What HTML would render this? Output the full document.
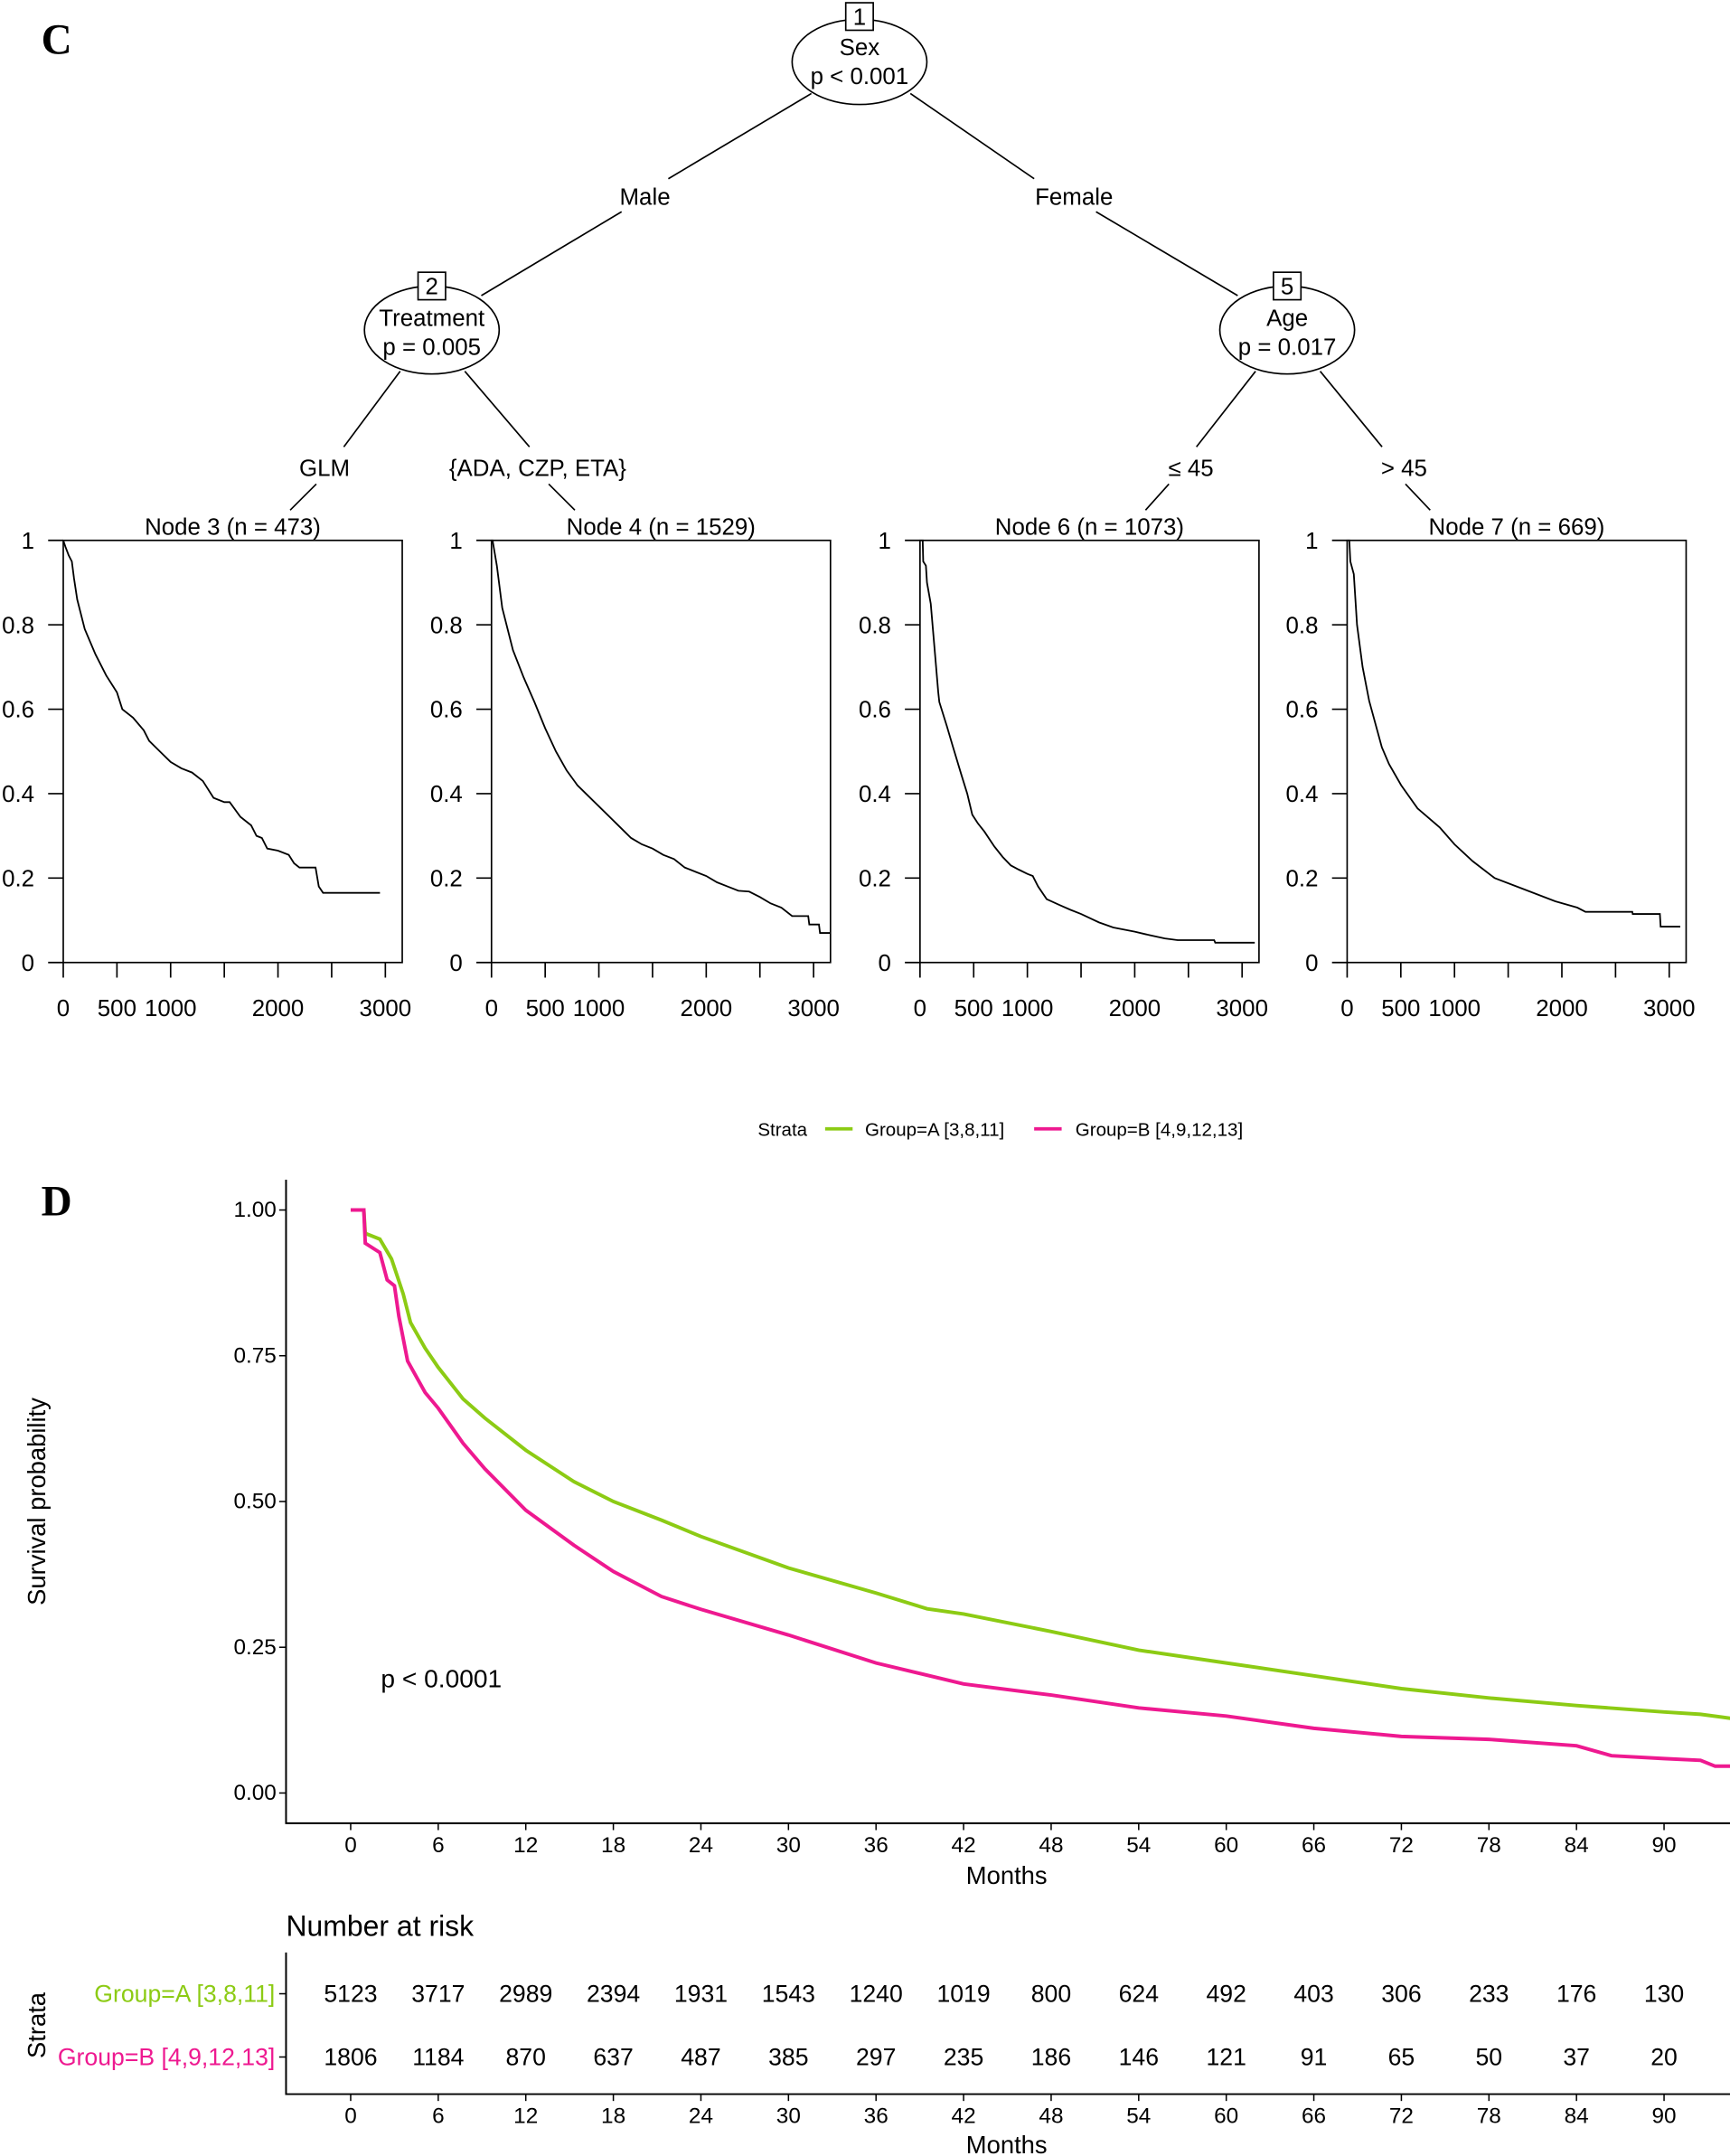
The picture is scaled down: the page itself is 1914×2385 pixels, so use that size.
<!DOCTYPE html>
<html><head><meta charset="utf-8"><style>
html,body{margin:0;padding:0;background:#fff;}
svg{display:block;}
text{font-family:"Liberation Sans",sans-serif;fill:#000;}
</style></head><body>
<svg id="fig" width="1914" height="2385" viewBox="0 0 1258 1568" preserveAspectRatio="none" xmlns="http://www.w3.org/2000/svg">
<text x="30" y="39" style="font-family:'Liberation Serif',serif;font-weight:bold;font-size:31px">C</text>
<text x="30" y="884" style="font-family:'Liberation Serif',serif;font-weight:bold;font-size:31px">D</text>
<g id="tree" stroke="#000" stroke-width="1.1" fill="none">
<line x1="590" y1="68" x2="486" y2="130"/><line x1="452" y1="154" x2="350" y2="215"/>
<line x1="662" y1="68" x2="752" y2="130"/><line x1="797" y1="154" x2="900" y2="215"/>
<line x1="291" y1="270" x2="250" y2="325"/><line x1="230" y1="352" x2="211" y2="371"/>
<line x1="338" y1="270" x2="385" y2="325"/><line x1="399" y1="352" x2="418" y2="371"/>
<line x1="913" y1="270" x2="870" y2="325"/><line x1="850" y1="352" x2="833" y2="371"/>
<line x1="960" y1="270" x2="1005" y2="325"/><line x1="1022" y1="352" x2="1040" y2="371"/>
<ellipse cx="625" cy="45" rx="49" ry="31" fill="#fff"/>
<ellipse cx="314" cy="240" rx="49" ry="32" fill="#fff"/>
<ellipse cx="936" cy="240" rx="49" ry="32" fill="#fff"/>
<rect x="615" y="2" width="20" height="20" fill="#fff"/>
<rect x="304" y="198" width="20" height="20" fill="#fff"/>
<rect x="926" y="198" width="20" height="20" fill="#fff"/>
</g>
<g font-size="17" text-anchor="middle">
<text x="625" y="18">1</text>
<text x="625" y="40">Sex</text>
<text x="625" y="61">p &lt; 0.001</text>
<text x="314" y="214">2</text>
<text x="314" y="237">Treatment</text>
<text x="314" y="258">p = 0.005</text>
<text x="936" y="214">5</text>
<text x="936" y="237">Age</text>
<text x="936" y="258">p = 0.017</text>
<text x="469" y="149">Male</text>
<text x="781" y="149">Female</text>
<text x="236" y="346">GLM</text>
<text x="391" y="346">{ADA, CZP, ETA}</text>
<text x="866" y="346">≤ 45</text>
<text x="1021" y="346">&gt; 45</text>
</g>
<g id="panels"></g>
<g id="d"></g>
</svg>
<script>
// Panel C data (time in days, survival)
const nodeTitles = ["Node 3 (n = 473)","Node 4 (n = 1529)","Node 6 (n = 1073)","Node 7 (n = 669)"];
const n3T = [0,20,50,80,100,130,200,300,400,500,550,650,750,800,900,1000,1100,1200,1300,1400,1500,1550,1650,1750,1800,1850,1900,2000,2100,2150,2200,2350,2380,2420,2950];
const n3S = [1,.985,.965,.95,.91,.86,.79,.73,.68,.64,.60,.58,.55,.525,.50,.475,.46,.45,.43,.39,.38,.38,.345,.325,.30,.295,.27,.265,.255,.235,.225,.225,.18,.165,.165];
const n4T = [0,10,30,50,100,200,300,400,500,600,700,800,900,1000,1100,1200,1300,1400,1500,1600,1700,1800,1900,2000,2100,2200,2300,2400,2500,2600,2700,2800,2950,2960,3050,3060,3155];
const n4S = [1,1,.97,.94,.84,.74,.675,.617,.555,.50,.455,.42,.395,.37,.345,.32,.295,.28,.27,.255,.245,.225,.215,.205,.19,.18,.17,.168,.155,.14,.13,.11,.11,.09,.09,.07,.07];
const n6T = [0,25,30,55,65,100,140,170,180,250,308,385,440,487,538,600,692,770,846,920,1000,1050,1100,1180,1310,1400,1500,1667,1800,2000,2100,2280,2400,2740,2750,3118];
const n6S = [1,1,.95,.94,.90,.85,.73,.64,.617,.56,.51,.445,.40,.35,.33,.31,.275,.25,.23,.22,.21,.205,.18,.15,.135,.125,.115,.095,.083,.073,.067,.057,.053,.053,.047,.047];
const n7T = [0,20,30,62,92,144,205,323,390,503,656,862,1000,1169,1374,1631,1938,2144,2220,2656,2660,2913,2920,3103];
const n7S = [1,1,.95,.92,.80,.70,.62,.51,.47,.42,.365,.32,.28,.24,.20,.175,.145,.13,.12,.12,.115,.115,.085,.085];
const cYTicks = [0,0.2,0.4,0.6,0.8,1];
const cYLabels = ["0","0.2","0.4","0.6","0.8","1"];
const cXTicks = [0,500,1000,1500,2000,2500,3000];
const cXLabels = ["0","500","1000","","2000","","3000"];

// Panel D data (months)
const monthTicks = [0,6,12,18,24,30,36,42,48,54,60,66,72,78,84,90];
const survTicks = [0,0.25,0.5,0.75,1];
const survLabels = ["0.00","0.25","0.50","0.75","1.00"];
const aT = [0,0.9,1,2,2.8,3.6,4.1,5.1,6,7.7,9.2,12,15.3,18,21.3,24,30,36,39.5,42,48,54,60,66,72,78,84,90,92.5,94.6];
const aS = [1,1,.96,.95,.916,.856,.807,.763,.73,.676,.643,.588,.534,.50,.468,.44,.386,.343,.316,.307,.277,.245,.223,.201,.179,.163,.15,.139,.135,.128];
const bT = [0,0.9,1,2,2.5,3,3.3,3.9,5.1,6,7.7,9.2,12,15.3,18,21.3,24,30,36,42,48,54,60,66,72,78,84,86.4,90,92.5,93.5,94.6];
const bS = [1,1,.943,.927,.88,.87,.818,.741,.687,.66,.60,.556,.485,.425,.38,.337,.315,.271,.223,.187,.168,.146,.132,.111,.097,.092,.081,.064,.059,.056,.046,.046];
const riskA = [5123,3717,2989,2394,1931,1543,1240,1019,800,624,492,403,306,233,176,130];
const riskB = [1806,1184,870,637,487,385,297,235,186,146,121,91,65,50,37,20];

const NS="http://www.w3.org/2000/svg";
function mk(tag, attrs, parent, txt){const e=document.createElementNS(NS,tag);for(const k in attrs)e.setAttribute(k,attrs[k]);if(txt!==undefined)e.textContent=txt;parent.appendChild(e);return e;}

const panels=document.getElementById('panels');
const lefts=[46,357.4,669,979.6];
const curves=[[n3T,n3S],[n4T,n4S],[n6T,n6S],[n7T,n7S]];
const PW=246.5, PT=393, PB=700;
for(let p=0;p<4;p++){
  const L=lefts[p];
  const xs=t=>L+t*0.07807, ys=s=>PB-s*(PB-PT);
  const g=mk('g',{},panels);
  
  
  const title=mk('text',{x:L+PW/2,y:389,'font-size':17,'text-anchor':'middle'},g,nodeTitles[p]);
  
  
  const box=mk('rect',{x:L,y:PT,width:PW,height:PB-PT,fill:'none',stroke:'#000','stroke-width':1.1},g);
  
  
  cYTicks.forEach((v,i)=>{
    mk('line',{x1:L-11,x2:L,y1:ys(v),y2:ys(v),stroke:'#000','stroke-width':1.1},g);
    const t=mk('text',{x:L-21,y:ys(v)+6,'font-size':17,'text-anchor':'end'},g,cYLabels[i]);
    
    
  });
  cXTicks.forEach((v,i)=>{
    mk('line',{x1:xs(v),x2:xs(v),y1:PB,y2:PB+11,stroke:'#000','stroke-width':1.1},g);
    if(cXLabels[i]){const t=mk('text',{x:xs(v),y:739,'font-size':17,'text-anchor':'middle'},g,cXLabels[i]);
    
    }
  });
  const [T,S]=curves[p];
  let d='';
  for(let i=0;i<T.length;i++){d+=(i?'L':'M')+xs(T[i]).toFixed(2)+' '+ys(S[i]).toFixed(2);}
  const path=mk('path',{d:d,fill:'none',stroke:'#000','stroke-width':1.2},g);
  
  
}

// Panel D
const D=document.getElementById('d');
const X0=255, XPM=63.67/6, Y0=1304, YPU=424;
const xm=m=>X0+m*XPM, yp=s=>Y0-s*YPU;
const green='#8ccb14', pink='#ee1990';
const lg=mk('g',{'font-size':13.5},D);


mk('text',{x:551,y:826},lg,'Strata');
mk('line',{x1:600,x2:620,y1:821,y2:821,stroke:green,'stroke-width':2.5},lg);
const la=mk('text',{x:629,y:826},lg,'Group=A [3,8,11]');


mk('line',{x1:752,x2:772,y1:821,y2:821,stroke:pink,'stroke-width':2.5},lg);
const lb=mk('text',{x:782,y:826},lg,'Group=B [4,9,12,13]');


const ax=mk('path',{d:'M208 858 L208 1326 L1258 1326',fill:'none',stroke:'#000','stroke-width':1.3},D);


survTicks.forEach((v,i)=>{
  mk('line',{x1:203,x2:208,y1:yp(v),y2:yp(v),stroke:'#000','stroke-width':1},D);
  const t=mk('text',{x:201,y:yp(v)+5,'font-size':16,'text-anchor':'end'},D,survLabels[i]);
  
  
});
monthTicks.forEach(v=>{
  mk('line',{x1:xm(v),x2:xm(v),y1:1326,y2:1331,stroke:'#000','stroke-width':1},D);
  const t=mk('text',{x:xm(v),y:1347,'font-size':16,'text-anchor':'middle'},D,String(v));
  
  
});
const xt=mk('text',{x:732,y:1370,'font-size':18,'text-anchor':'middle'},D,'Months');


const yt=mk('text',{x:0,y:0,'font-size':18,'text-anchor':'middle',transform:'translate(33 1092) rotate(-90)'},D,'Survival probability');


const pv=mk('text',{x:277,y:1227,'font-size':18.5},D,'p < 0.0001');


function stepPath(T,S){let d='M'+xm(T[0])+' '+yp(S[0]);for(let i=1;i<T.length;i++){d+='L'+xm(T[i]).toFixed(2)+' '+yp(S[i]).toFixed(2);}return d;}
const ca=mk('path',{d:stepPath(aT,aS),fill:'none',stroke:green,'stroke-width':2.6},D);


const cb=mk('path',{d:stepPath(bT,bS),fill:'none',stroke:pink,'stroke-width':2.6},D);


const rt=mk('text',{x:208,y:1408,'font-size':21},D,'Number at risk');


const rax=mk('path',{d:'M208 1420 L208 1523 L1258 1523',fill:'none',stroke:'#000','stroke-width':1.3},D);


[[1450,'Group=A [3,8,11]',green,riskA],[1496,'Group=B [4,9,12,13]',pink,riskB]].forEach(r=>{
  mk('line',{x1:203,x2:208,y1:r[0],y2:r[0],stroke:'#000','stroke-width':1},D);
  const l=mk('text',{x:200,y:r[0]+6,'font-size':17.5,'text-anchor':'end',style:'fill:'+r[2]},D,r[1]);
  
  
  r[3].forEach((v,i)=>{
    const t=mk('text',{x:xm(monthTicks[i]),y:r[0]+6,'font-size':17.5,'text-anchor':'middle'},D,String(v));
    
    
  });
});
const st=mk('text',{x:0,y:0,'font-size':18,'text-anchor':'middle',transform:'translate(33 1473) rotate(-90)'},D,'Strata');


monthTicks.forEach(v=>{
  mk('line',{x1:xm(v),x2:xm(v),y1:1523,y2:1528,stroke:'#000','stroke-width':1},D);
  const t=mk('text',{x:xm(v),y:1544,'font-size':16,'text-anchor':'middle'},D,String(v));
  
  
});
const xt2=mk('text',{x:732,y:1566,'font-size':18,'text-anchor':'middle'},D,'Months');


</script>
</body></html>
